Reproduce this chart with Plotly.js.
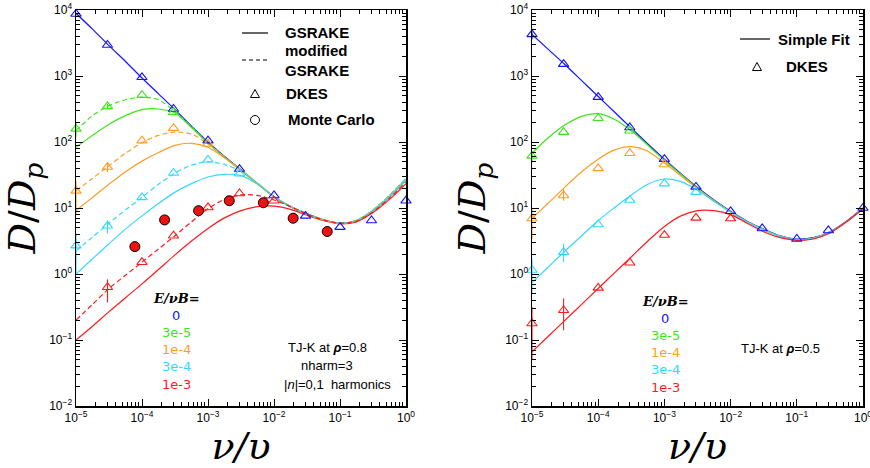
<!DOCTYPE html>
<html><head><meta charset="utf-8">
<script src="https://cdn.plot.ly/plotly-3.0.1.min.js"></script>
<style>html,body{margin:0;padding:0;background:#fff}#chart{width:870px;height:468px}</style>
</head><body><div id="chart"></div>
<script>
// ---------------- data ----------------
const nuGrid = [1e-5, 1.778e-5, 3.162e-5, 5.623e-5, 1e-4, 1.778e-4, 3.162e-4, 5.623e-4, 1e-3, 1.778e-3, 3.162e-3, 5.623e-3, 1e-2, 1.778e-2, 3.162e-2, 5.623e-2, 0.1, 0.1778, 0.3162, 0.5623, 1];
const fieldLabels = ['0', '3e-5', '1e-4', '3e-4', '1e-3'];
const fieldColors = ['#1414ff', '#3fe41c', '#ff9d26', '#36d6ff', '#ff1a1a'];

// left panel: GSRAKE (solid)
const gsrake_0    = [8913, 5129, 2884, 1660, 933, 537, 309, 174, 100, 60.3, 38.0, 23.4, 14.8, 10.5, 8.13, 6.61, 5.89, 6.46, 9.12, 14.8, 26.3];
const gsrake_3em5 = [83.2, 126, 186, 251, 309, 316, 275, 166, 95.5, 58.9, 37.2, 23.4, 14.8, 10.5, 8.13, 6.61, 5.89, 6.46, 9.12, 14.8, 26.3];
const gsrake_1em4 = [9.12, 14.5, 22.9, 35.5, 51.3, 69.2, 89.1, 95.5, 83.2, 57.5, 37.2, 23.4, 14.8, 10.5, 8.13, 6.61, 5.89, 6.46, 9.12, 14.8, 26.3];
const gsrake_3em4 = [1.0, 1.70, 2.88, 4.79, 7.59, 11.7, 17.4, 23.4, 29.5, 32.4, 30.9, 22.9, 14.8, 10.5, 8.13, 6.61, 5.89, 6.46, 9.12, 14.8, 26.3];
const gsrake_1em3 = [0.1, 0.162, 0.269, 0.437, 0.708, 1.17, 1.95, 3.16, 4.90, 7.08, 9.12, 10.5, 10.7, 9.55, 7.76, 6.46, 5.75, 6.17, 8.51, 13.5, 23.4];
// left panel: modified GSRAKE (dashed)
const modif_3em5 = [148, 251, 355, 437, 479, 437, 288, 170, 97.7, 58.9, 37.2, 23.4, 14.8, 10.5, 8.13, 6.61, 5.89, 6.46, 9.33, 15.5, 28.2];
const modif_1em4 = [18.2, 28.2, 43.7, 67.6, 97.7, 126, 141, 132, 93.3, 58.9, 37.2, 23.4, 14.8, 10.5, 8.13, 6.61, 5.89, 6.46, 9.33, 15.5, 28.2];
const modif_3em4 = [2.24, 3.63, 5.89, 9.33, 14.5, 22.9, 33.9, 44.7, 50.1, 45.7, 36.3, 24.0, 14.8, 10.5, 8.13, 6.61, 5.89, 6.46, 9.33, 15.5, 28.2];
const modif_1em3 = [0.2, 0.347, 0.603, 0.955, 1.51, 2.40, 3.80, 6.17, 9.77, 13.5, 15.8, 15.5, 13.2, 10.5, 8.13, 6.61, 5.89, 6.31, 8.71, 14.1, 24.5];

// left panel: DKES points
const dkesL_nu = [1e-5, 3e-5, 1e-4, 3e-4, 1e-3, 3e-3, 1e-2, 3e-2, 0.1, 0.3, 1];
const dkesL_0    = [8710, 2950, 955, 316, 105, 38.9, 15.5, 7.59, 5.13, 6.46, 12.9];
const dkesL_3em5 = [158, 347, 513, 282];
const dkesL_1em4 = [18.2, 41.7, 105, 162, 93.3];
const dkesL_3em4 = [2.69, 5.37, 14.5, 33.9, 53.7, 33.1];
const dkesL_1em3_nu = [3e-5, 1e-4, 3e-4, 1e-3, 3e-3, 1e-2];
const dkesL_1em3 = [0.63, 1.51, 3.80, 10.2, 16.6, 12.9];
// DKES error bar bounds (upper / lower), null = none
const dkesL_3em5_hi = [195, 380, null, null];
const dkesL_3em5_lo = [120, 315, null, null];
const dkesL_1em4_hi = [25.7, 49.5, null, null, null];
const dkesL_1em4_lo = [8.1, 35, null, null, null];
const dkesL_3em4_hi = [4.1, 6.5, null, null, null, null];
const dkesL_3em4_lo = [1.0, 4.1, null, null, null, null];
const dkesL_1em3_hi = [0.83, null, null, null, null, null];
const dkesL_1em3_lo = [0.37, null, null, null, null, null];

// left panel: Monte Carlo (E/vB = 1e-3)
const mc_nu = [7.8e-5, 2.2e-4, 7.2e-4, 2.1e-3, 6.9e-3, 1.95e-2, 6.4e-2];
const mc_D  = [2.6, 6.6, 9.1, 12.9, 12.0, 7.0, 4.4];

// right panel: simple fit
const fit_0    = [4266, 2512, 1479, 851, 490, 282, 162, 93.3, 55.0, 33.1, 20.4, 13.2, 8.91, 6.31, 4.79, 3.80, 3.39, 3.55, 4.37, 6.31, 10.0];
const fit_3em5 = [67.6, 117, 182, 245, 269, 219, 148, 89.1, 52.5, 32.4, 20.0, 12.9, 8.71, 6.17, 4.68, 3.72, 3.31, 3.47, 4.27, 6.17, 9.77];
const fit_1em4 = [6.92, 12.0, 20.9, 35.5, 55.0, 75.9, 85.1, 72.4, 47.9, 30.9, 19.5, 12.9, 8.71, 6.17, 4.68, 3.72, 3.31, 3.47, 4.27, 6.17, 9.77];
const fit_3em4 = [0.741, 1.29, 2.24, 3.80, 6.46, 10.2, 15.8, 22.9, 27.5, 25.1, 18.6, 12.6, 8.71, 6.17, 4.68, 3.72, 3.31, 3.47, 4.27, 6.17, 9.77];
const fit_1em3 = [0.066, 0.115, 0.2, 0.347, 0.603, 1.05, 1.82, 3.16, 5.25, 7.59, 9.12, 9.12, 7.94, 5.89, 4.37, 3.55, 3.24, 3.39, 4.17, 6.17, 9.77];

// right panel: DKES points
const dkesR_nu = [1e-5, 3e-5, 1e-4, 3e-4, 1e-3, 3e-3, 1e-2, 3e-2, 0.1, 0.3, 1];
const dkesR_0    = [4266, 1514, 479, 166, 55.0, 20.9, 8.91, 4.90, 3.39, 4.57, 10.0];
const dkesR_3em5 = [61.7, 141, 229, 148];
const dkesR_1em4 = [6.92, 15.5, 39.8, 67.6, 45.7];
const dkesR_3em4 = [1.15, 2.14, 5.62, 13.2, 23.4, 17.4];
const dkesR_1em3 = [0.178, 0.282, 0.617, 1.48, 3.89, 7.08, 6.92];
const dkesR_0_hi    = [5200, null, null, null, null, null, null, null, null, null, null];
const dkesR_0_lo    = [3600, null, null, null, null, null, null, null, null, null, null];
const dkesR_3em5_hi = [74, null, null, null];
const dkesR_3em5_lo = [49, null, null, null];
const dkesR_1em4_hi = [10.2, 19.5, null, null, null];
const dkesR_1em4_lo = [3.39, 12.9, null, null, null];
const dkesR_3em4_hi = [1.70, 2.88, null, null, null, null];
const dkesR_3em4_lo = [0.50, 1.51, null, null, null, null];
const dkesR_1em3_hi = [0.316, 0.427, null, null, null, null, null];
const dkesR_1em3_lo = [0.05, 0.141, null, null, null, null, null];

// axis tick labels
const xTickVals = [1e-5, 1e-4, 1e-3, 1e-2, 1e-1, 1];
const xTickText = ['10<sup>−5</sup>', '10<sup>−4</sup>', '10<sup>−3</sup>', '10<sup>−2</sup>', '10<sup>−1</sup>', '10<sup>0</sup>'];
const yTickVals = [1e-2, 1e-1, 1, 10, 100, 1000, 10000];
const yTickText = ['10<sup>−2</sup>', '10<sup>−1</sup>', '10<sup>0</sup>', '10<sup>1</sup>', '10<sup>2</sup>', '10<sup>3</sup>', '10<sup>4</sup>'];

// ---------------- build ----------------
const W = 870, H = 468;
const PX = p => p / W, PY = p => 1 - p / H;

function errs(y, hi, lo, color) {
  if (!hi) return undefined;
  return {type: 'data', symmetric: false, visible: true, color: color, thickness: 1.1, width: 0,
    array: y.map((v, i) => hi[i] == null ? 0 : hi[i] - v),
    arrayminus: y.map((v, i) => lo[i] == null ? 0 : v - lo[i])};
}
function line(y, color, dash, xa, ya) {
  return {x: nuGrid, y: y, xaxis: xa, yaxis: ya, type: 'scatter', mode: 'lines', showlegend: false, hoverinfo: 'skip',
    line: {color: color, width: 1.2, dash: dash, shape: 'spline', smoothing: 0.8}};
}
function tri(x, y, color, xa, ya, hi, lo) {
  return {x: x.slice(0, y.length), y: y, xaxis: xa, yaxis: ya, type: 'scatter', mode: 'markers', showlegend: false, cliponaxis: false,
    marker: {symbol: 'triangle-up-open', size: 9, color: color, line: {color: color, width: 1.1}},
    error_y: errs(y, hi, lo, color)};
}

const traces = [];
const leftSolid = [gsrake_0, gsrake_3em5, gsrake_1em4, gsrake_3em4, gsrake_1em3];
const leftDash = [null, modif_3em5, modif_1em4, modif_3em4, modif_1em3];
const rightFit = [fit_0, fit_3em5, fit_1em4, fit_3em4, fit_1em3];
leftSolid.forEach((s, i) => traces.push(line(s, fieldColors[i], 'solid', 'x', 'y')));
leftDash.forEach((s, i) => { if (s) traces.push(line(s, fieldColors[i], '5px,3px', 'x', 'y')); });
rightFit.forEach((s, i) => traces.push(line(s, fieldColors[i], 'solid', 'x2', 'y2')));

traces.push(tri(dkesL_nu, dkesL_0, fieldColors[0], 'x', 'y'));
traces.push(tri(dkesL_nu, dkesL_3em5, fieldColors[1], 'x', 'y', dkesL_3em5_hi, dkesL_3em5_lo));
traces.push(tri(dkesL_nu, dkesL_1em4, fieldColors[2], 'x', 'y', dkesL_1em4_hi, dkesL_1em4_lo));
traces.push(tri(dkesL_nu, dkesL_3em4, fieldColors[3], 'x', 'y', dkesL_3em4_hi, dkesL_3em4_lo));
traces.push(tri(dkesL_1em3_nu, dkesL_1em3, fieldColors[4], 'x', 'y', dkesL_1em3_hi, dkesL_1em3_lo));
traces.push({x: mc_nu, y: mc_D, xaxis: 'x', yaxis: 'y', type: 'scatter', mode: 'markers', showlegend: false,
  marker: {symbol: 'circle', size: 10, color: '#ee1111', line: {color: '#000', width: 1}}});

traces.push(tri(dkesR_nu, dkesR_0, fieldColors[0], 'x2', 'y2', dkesR_0_hi, dkesR_0_lo));
traces.push(tri(dkesR_nu, dkesR_3em5, fieldColors[1], 'x2', 'y2', dkesR_3em5_hi, dkesR_3em5_lo));
traces.push(tri(dkesR_nu, dkesR_1em4, fieldColors[2], 'x2', 'y2', dkesR_1em4_hi, dkesR_1em4_lo));
traces.push(tri(dkesR_nu, dkesR_3em4, fieldColors[3], 'x2', 'y2', dkesR_3em4_hi, dkesR_3em4_lo));
traces.push(tri(dkesR_nu, dkesR_1em3, fieldColors[4], 'x2', 'y2', dkesR_1em3_hi, dkesR_1em3_lo));

// minor tick values (2..9 per decade)
const minorX = [], minorY = [];
for (let k = -5; k < 0; k++) for (let m = 2; m <= 9; m++) minorX.push(m * Math.pow(10, k));
for (let k = -2; k < 4; k++) for (let m = 2; m <= 9; m++) minorY.push(m * Math.pow(10, k));

const tickFont = {family: 'Liberation Sans, Arial, sans-serif', size: 12, color: '#000'};
const titleFont = {family: 'DejaVu Serif, serif', size: 38, color: '#000'};
function xax(domain, anchor) {
  return {type: 'log', domain: domain, anchor: anchor, range: [-5, 0], tickmode: 'array', tickvals: xTickVals, ticktext: xTickText,
    ticks: 'inside', ticklen: 7, tickwidth: 1, tickcolor: '#000', showline: true, linecolor: '#000', linewidth: 1.5, mirror: 'allticks',
    showgrid: false, zeroline: false, tickfont: tickFont, ticklabeloverflow: 'allow',
    minor: {tickmode: 'array', tickvals: minorX, ticks: 'inside', ticklen: 4, tickwidth: 1, tickcolor: '#000', showgrid: false},
    title: {text: '<i>ν/υ</i>', font: titleFont, standoff: 1}};
}
function yax(domain, anchor) {
  return {type: 'log', domain: domain, anchor: anchor, range: [-2, 4], tickmode: 'array', tickvals: yTickVals, ticktext: yTickText,
    ticks: 'inside', ticklen: 7, tickwidth: 1, tickcolor: '#000', showline: true, linecolor: '#000', linewidth: 1.5, mirror: 'allticks',
    showgrid: false, zeroline: false, tickfont: tickFont,
    minor: {tickmode: 'array', tickvals: minorY, ticks: 'inside', ticklen: 4, tickwidth: 1, tickcolor: '#000', showgrid: false},
    title: {text: '<i>D</i>/<i>D</i><sub><i>p</i></sub>', font: titleFont, standoff: 8}};
}
const yDom = [PY(406), PY(10)];

const ann = [];
const shapes = [];
function txt(px, py, text, opts) {
  ann.push(Object.assign({xref: 'paper', yref: 'paper', x: PX(px), y: PY(py), text: text, showarrow: false,
    xanchor: 'center', yanchor: 'middle', font: {family: 'Liberation Sans, Arial, sans-serif', size: 13, color: '#000'}}, opts || {}));
}
function legLine(x0, x1, py, dash) {
  shapes.push({type: 'line', xref: 'paper', yref: 'paper', x0: PX(x0), x1: PX(x1), y0: PY(py), y1: PY(py), line: {color: '#000', width: 1.2, dash: dash}});
}
function legTri(cx, cy) {
  const s = 4.5;
  shapes.push({type: 'path', xref: 'paper', yref: 'paper', line: {color: '#000', width: 1},
    path: `M${PX(cx - s)},${PY(cy + 3.5)} L${PX(cx + s)},${PY(cy + 3.5)} L${PX(cx)},${PY(cy - 4.5)} Z`});
}
function legCirc(cx, cy) {
  shapes.push({type: 'circle', xref: 'paper', yref: 'paper', line: {color: '#000', width: 1},
    x0: PX(cx - 4.5), x1: PX(cx + 4.5), y0: PY(cy + 4.5), y1: PY(cy - 4.5)});
}
const legFont = {family: 'Liberation Sans, Arial, sans-serif', size: 15, color: '#000', weight: 'bold'};
// left legend
legLine(242, 268, 33, 'solid');
txt(283, 33, 'GSRAKE', {xanchor: 'left', font: legFont});
legLine(242, 268, 60, '4px,3px');
txt(283, 61, 'modified<br>GSRAKE', {xanchor: 'left', align: 'left', font: legFont});
legTri(255, 94);
txt(284, 94, 'DKES', {xanchor: 'left', font: legFont});
legCirc(255, 120);
txt(286, 120, 'Monte Carlo', {xanchor: 'left', font: legFont});
// right legend
legLine(740, 770, 39, 'solid');
txt(776, 39, 'Simple Fit', {xanchor: 'left', font: legFont});
legTri(757, 67);
txt(784, 67, 'DKES', {xanchor: 'left', font: legFont});

// E/vB labels
const eFont = {family: 'DejaVu Serif, serif', size: 13, color: '#000', weight: 'bold'};
const leftLabelX = 176, rightLabelX = 665;
txt(leftLabelX, 298, '<i>E/νB=</i>', {font: eFont});
txt(rightLabelX, 301, '<i>E/νB=</i>', {font: eFont});
fieldLabels.forEach((t, i) => {
  txt(leftLabelX, 315 + i * 17.3, t, {font: {family: 'DejaVu Sans, sans-serif', size: 13, color: fieldColors[i]}});
  txt(rightLabelX, 318 + i * 17.3, t, {font: {family: 'DejaVu Sans, sans-serif', size: 13, color: fieldColors[i]}});
});
const infoFont = {family: 'Liberation Sans, Arial, sans-serif', size: 13, color: '#000'};
txt(327, 347, 'TJ-K at <b><i>ρ</i></b>=0.8', {font: infoFont});
txt(327, 365, 'nharm=3', {font: infoFont});
txt(337, 384, '|<i>n</i>|=0,1  harmonics', {font: infoFont});
txt(780, 348, 'TJ-K at <b><i>ρ</i></b>=0.5', {font: infoFont});

const layout = {
  width: W, height: H, margin: {l: 0, r: 0, t: 0, b: 0}, paper_bgcolor: '#fff', plot_bgcolor: '#fff', showlegend: false,
  xaxis: xax([PX(76), PX(406)], 'y'), yaxis: yax(yDom, 'x'),
  xaxis2: xax([PX(532), PX(863)], 'y2'), yaxis2: yax(yDom, 'x2'),
  annotations: ann, shapes: shapes
};
Plotly.newPlot('chart', traces, layout, {staticPlot: true});
</script></body></html>
